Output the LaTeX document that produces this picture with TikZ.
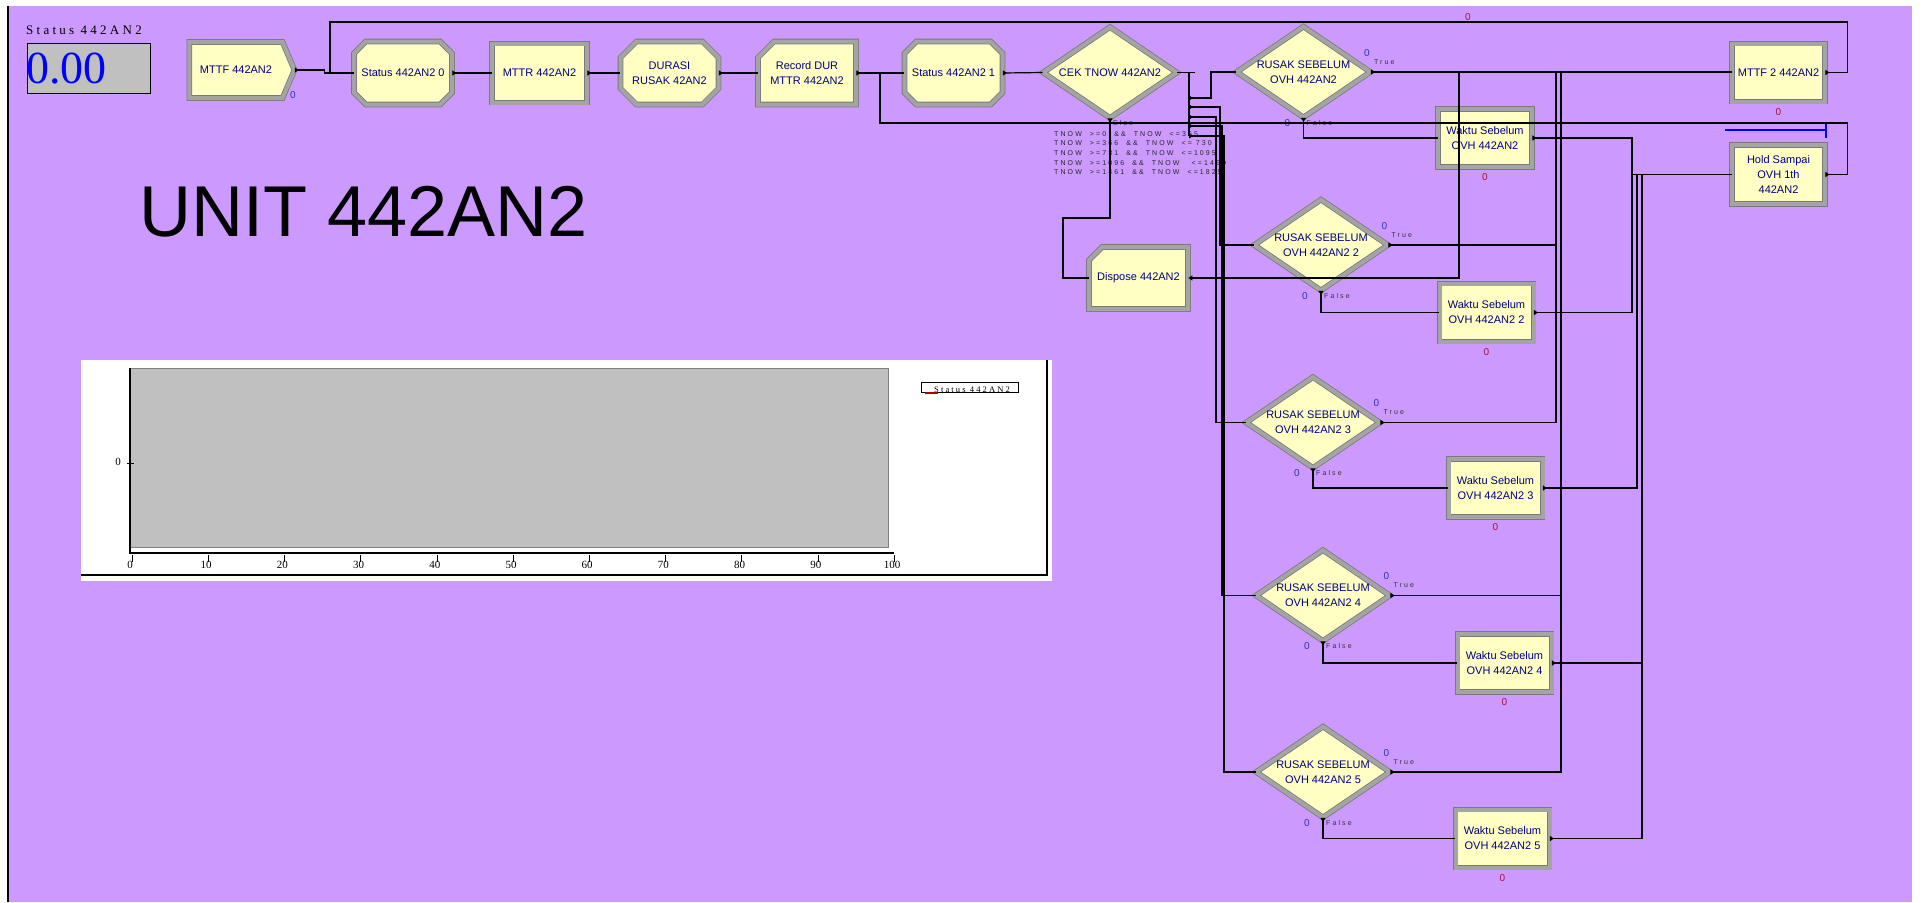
\documentclass[tikz,border=0pt]{standalone}
\usepackage{fontspec}
\usepackage{xcolor}
\usetikzlibrary{shapes.geometric,shapes.misc,shapes.symbols,arrows.meta}
\setmainfont{Liberation Sans}
\newfontfamily\serifdisp{Liberation Serif}
\newfontfamily\serifsp[LetterSpace=25]{Liberation Serif}
\newfontfamily\sanssp[LetterSpace=30]{Liberation Sans}

\definecolor{bgpurple}{HTML}{CC99FF}
\definecolor{modfill}{HTML}{FFFFC4}
\definecolor{bevel}{HTML}{A4A4A4}
\definecolor{bevdark}{HTML}{7A7A7A}
\definecolor{modtext}{HTML}{000080}
\definecolor{cntblue}{HTML}{3030C0}
\definecolor{cntred}{HTML}{A8103C}
\definecolor{plotgray}{HTML}{C0C0C0}

\begin{document}
\begin{tikzpicture}[x=1pt, y=-1pt,
    modbase/.style={draw=bevdark, double=bevel, double distance=4pt, line width=0.8pt, fill=modfill,
      text=modtext, align=center, inner sep=0pt, font=\fontsize{11}{15}\selectfont},
    delaybox/.style={modbase, rectangle, minimum width=94pt, minimum height=58pt},
    assignbox/.style={modbase, chamfered rectangle, chamfered rectangle xsep=8pt, chamfered rectangle ysep=8pt,
      minimum width=98pt, minimum height=63pt},
    recordbox/.style={assignbox, chamfered rectangle corners=north west},
    decidebox/.style={modbase, diamond, aspect=1.47, minimum width=134pt, minimum height=91pt},
    createbox/.style={modbase, signal, signal to=east, signal pointer angle=134, minimum width=105pt, minimum height=56pt},
    conn/.style={draw=black, line width=1.2pt},
    exitpt/.style={arrows={Triangle[reversed,length=4pt,width=5pt]-}},
    bluecnt/.style={text=cntblue, font=\fontsize{10}{10}\selectfont, inner sep=0pt},
    redcnt/.style={text=cntred, font=\fontsize{10}{10}\selectfont, inner sep=0pt},
    branchlbl/.style={text=black!80, font=\sanssp\fontsize{7}{7}\selectfont, inner sep=0pt, anchor=west}]

  % background
  \fill[white] (0,0) rectangle (1924,902);
  \useasboundingbox (0,0) rectangle (1924,902);
  \fill[bgpurple] (8,6) rectangle (1912,902);
  \draw[line width=1.5pt] (8,6) -- (8,902);

  % status display
  \node[font=\serifsp\fontsize{13}{13}\selectfont, anchor=base west, inner sep=0pt] (sttitle) at (26,34) {Status 442AN2};
  \node[draw=black, fill=plotgray, line width=1pt, minimum width=123pt, minimum height=50pt, anchor=north west, inner sep=0pt] (stdisp) at (26.5,43) {};
  \node[text=blue, font=\serifdisp\fontsize{46}{46}\selectfont, anchor=base west, inner sep=0pt] (stval) at (26,83) {0.00};

  \node[font=\fontsize{72}{72}\selectfont, anchor=base west, inner sep=0pt] (unit) at (139,236) {UNIT 442AN2};

  % top row
  \node[createbox] (mttf) at (236,70) {MTTF 442AN2};
  \node[assignbox] (st0) at (403,73) {Status 442AN2 0};
  \node[delaybox, minimum width=95pt, minimum height=59pt] (mttr) at (539.5,73) {MTTR 442AN2};
  \node[assignbox] (durasi) at (669.5,73) {DURASI\\RUSAK 42AN2};
  \node[recordbox] (recdur) at (807,73) {Record DUR\\MTTR 442AN2};
  \node[assignbox] (st1) at (953.5,73) {Status 442AN2 1};
  \node[decidebox] (cek) at (1110,72.5) {CEK TNOW 442AN2};
  \node[recordbox, minimum width=99pt, minimum height=62pt] (dispose) at (1138.5,278) {Dispose 442AN2};

  % decide / delay column
  \node[decidebox] (rusak1) at (1303.5,72) {RUSAK SEBELUM\\OVH 442AN2};
  \node[decidebox] (rusak2) at (1321,245) {RUSAK SEBELUM\\OVH 442AN2 2};
  \node[decidebox] (rusak3) at (1313,422.5) {RUSAK SEBELUM\\OVH 442AN2 3};
  \node[decidebox] (rusak4) at (1323,595.5) {RUSAK SEBELUM\\OVH 442AN2 4};
  \node[decidebox] (rusak5) at (1323,772) {RUSAK SEBELUM\\OVH 442AN2 5};

  \node[delaybox] (waktu1) at (1485,138) {Waktu Sebelum\\OVH 442AN2};
  \node[delaybox] (waktu2) at (1486.5,312.5) {Waktu Sebelum\\OVH 442AN2 2};
  \node[delaybox] (waktu3) at (1495.5,488) {Waktu Sebelum\\OVH 442AN2 3};
  \node[delaybox] (waktu4) at (1504.5,663) {Waktu Sebelum\\OVH 442AN2 4};
  \node[delaybox] (waktu5) at (1502.5,838.5) {Waktu Sebelum\\OVH 442AN2 5};

  \node[delaybox, minimum width=93pt] (mttf2) at (1778.5,72.5) {MTTF 2 442AN2};
  \node[delaybox, minimum width=93pt, minimum height=59pt] (hold) at (1778.5,174.5) {Hold Sampai\\OVH 1th\\442AN2};
  \draw[blue, line width=1.2pt] (1725,130) -- (1826,130) (1826,122) -- (1826,138);

  % counters and branch labels
  \node[bluecnt] (mttfcnt) at (293,95) {0};
  \node[redcnt] (topcnt) at (1468,17) {0};
  \node[redcnt] (mttf2cnt) at ([yshift=-10pt]mttf2.south) {0};
  \foreach \i in {1,...,5} {
    \node[redcnt] (wcnt\i) at ([yshift=-10pt]waktu\i.south) {0};
    \node[bluecnt] (tcnt\i) at ([shift={(-4pt,19pt)}]rusak\i.east) {0};
    \node[branchlbl] (tlbl\i) at ([shift={(3pt,10pt)}]rusak\i.east) {True};
    \node[bluecnt] (fcnt\i) at ([shift={(-16pt,-5pt)}]rusak\i.south) {0};
    \node[branchlbl] (flbl\i) at ([shift={(3pt,-5pt)}]rusak\i.south) {False};
  }
  \node[branchlbl] (elselbl) at ([shift={(3pt,-5pt)}]cek.south) {Else};
  \node[anchor=north west, align=left, text=black!85, inner sep=0pt,
    font=\sanssp\fontsize{7}{9.7}\selectfont] (cekcond) at (1054,131)
    {TNOW\ \ >=0\ \ \&\&\ \ TNOW\ \ <=365\\
     TNOW\ \ >=366\ \ \&\&\ \ TNOW\ \ <= 730\\
     TNOW\ \ >=731\ \ \&\&\ \ TNOW\ \ <=1095\\
     TNOW\ \ >=1096\ \ \&\&\ \ TNOW\ \ \ <=1460\\
     TNOW\ \ >=1461\ \ \&\&\ \ TNOW\ \ <=1825};

  % main flow
  \draw[conn,exitpt] (mttf.east) -- ++(30,0) |- (st0.west);
  \draw[conn,exitpt] (st0.east) -- (mttr.west);
  \draw[conn,exitpt] (mttr.east) -- (durasi.west);
  \draw[conn,exitpt] (durasi.east) -- (recdur.west);
  \draw[conn,exitpt] (recdur.east) -- (st1.west);
  \draw[conn,exitpt] (st1.east) -- (cek.west);
  \draw[conn,exitpt] (mttf2.east) -- ++(22,0) |- (330,22) |- (st0.west);
  \draw[conn,exitpt] (hold.east) -- ++(22,0) |- (880,123) |- (st1.west);

  % CEK exits
  \coordinate (cekbus) at (1189,73);
  \foreach \k/\yy in {1/98,2/107,3/117,4/126,5/136}
    \coordinate (cekx\k) at (1189,\yy);
  \draw[conn] (cek.east) -- ++(18,0);
  \draw[conn] (cekbus) -- (cekx5);
  \draw[conn,exitpt] (cekx1) -- ++(22,0) |- (rusak1.west);
  \draw[conn,exitpt] (cekx2) -- ++(31,0) |- (rusak2.west);
  \draw[conn,exitpt] (cekx3) -- ++(27,0) |- (rusak3.west);
  \draw[conn,exitpt] (cekx4) -- ++(33,0) |- (rusak4.west);
  \draw[conn,exitpt] (cekx5) -- ++(35,0) |- (rusak5.west);
  \draw[conn,exitpt] (cek.south) |- (1063,218) |- (dispose.west);

  % True branches
  \coordinate (busA) at (1556,72);
  \coordinate (busB) at (1561,72);
  \coordinate (dispjoin) at (1459,72);
  \draw[conn,exitpt] (rusak1.east) -- (rusak1.east -| mttf2.west);
  \draw[conn,-{Triangle[length=4pt,width=5pt]}] (dispjoin) |- (dispose.east);
  \draw[conn,exitpt] (rusak2.east) -| (busA);
  \draw[conn,exitpt] (rusak3.east) -| (busA);
  \draw[conn,exitpt] (rusak4.east) -| (busB);
  \draw[conn,exitpt] (rusak5.east) -| (busB);

  % False branches and delays into hold
  \coordinate (hbus1) at (1632,174.5);
  \coordinate (hbus2) at (1637,174.5);
  \coordinate (hbus3) at (1642,174.5);
  \foreach \i in {1,...,5}
    \draw[conn,exitpt] (rusak\i.south) |- (waktu\i.west);
  \draw[conn,exitpt] (waktu1.east) -| (hbus1) -- (hold.west);
  \draw[conn,exitpt] (waktu2.east) -| (hbus1);
  \draw[conn,exitpt] (waktu3.east) -| (hbus2);
  \draw[conn,exitpt] (waktu4.east) -| (hbus3);
  \draw[conn,exitpt] (waktu5.east) -| (hbus3);

  % plot
  \fill[white] (81,360) rectangle (1052,581);
  \draw[line width=1.2pt] (81,575) -- (1047,575) -- (1047,360);
  \draw[fill=plotgray, draw=gray] (130,368) rectangle (888,547);
  \draw[line width=1.2pt] (130,368) -- (130,553) -- (894,553);
  \draw (127,463) -- (134,463);
  \node[font=\serifdisp\fontsize{11}{11}\selectfont, inner sep=0pt] (ytick0) at (118,462) {0};
  \foreach \i in {0,...,10} {
    \pgfmathsetmacro\tx{132+76.2*\i}
    \pgfmathtruncatemacro\tv{10*\i}
    \draw (\tx,555) -- (\tx,562);
    \node[font=\serifdisp\fontsize{11}{11}\selectfont, inner sep=0pt, anchor=north] (xt\i) at (\tx-2,561) {\tv};
  }
  \node[draw=black, fill=white, line width=1pt, minimum width=97pt, minimum height=10pt, anchor=north west, inner sep=0pt] (legbox) at (921,382) {};
  \draw[red!70!black, line width=1.5pt] (925,393) -- (938,393);
  \node[font=\serifsp\fontsize{8.5}{8.5}\selectfont, inner sep=0pt] (legtxt) at (972,390) {Status 442AN2};
\end{tikzpicture}
\end{document}
